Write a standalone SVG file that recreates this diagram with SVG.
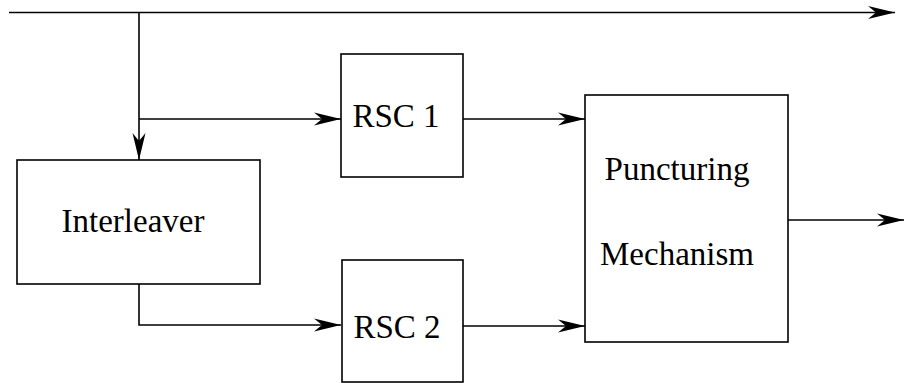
<svg xmlns="http://www.w3.org/2000/svg" width="905" height="383" viewBox="0 0 905 383">
<style>
.box{fill:#fff;stroke:#000;stroke-width:1.6}
.ln{fill:none;stroke:#000;stroke-width:1.6}
.t{font-family:"Liberation Serif","Times New Roman",serif;font-size:33px;fill:#000;text-anchor:middle}
</style>
<defs>
<marker id="ah" markerUnits="userSpaceOnUse" markerWidth="30" markerHeight="16" viewBox="-28 -8 30 16" refX="0" refY="0" orient="auto" overflow="visible">
<path d="M0,0 L-27,-6.5 L-19,0 L-27,6.5 Z" fill="#000"/>
</marker>
</defs>
<g id="connectors">
<path class="ln" d="M9,12.5 H895" marker-end="url(#ah)"/>
<path class="ln" d="M139,12.5 V160" marker-end="url(#ah)"/>
<path class="ln" d="M139,119 H341" marker-end="url(#ah)"/>
<path class="ln" d="M139,284 V325 H341" marker-end="url(#ah)"/>
<path class="ln" d="M463,119 H585" marker-end="url(#ah)"/>
<path class="ln" d="M463,326 H585" marker-end="url(#ah)"/>
<path class="ln" d="M788,220 H904" marker-end="url(#ah)"/>
</g>
<g id="interleaver">
<rect class="box" x="17" y="160" width="243" height="124"/>
<text class="t" x="133" y="232">Interleaver</text>
</g>
<g id="rsc1">
<rect class="box" x="341" y="54" width="122" height="123"/>
<text class="t" x="396" y="127">RSC 1</text>
</g>
<g id="rsc2">
<rect class="box" x="342" y="260" width="121" height="122"/>
<text class="t" x="397" y="338">RSC 2</text>
</g>
<g id="puncturing">
<rect class="box" x="585" y="95" width="203" height="247"/>
<text class="t" x="677" y="180">Puncturing</text>
<text class="t" x="677" y="265">Mechanism</text>
</g>
</svg>
